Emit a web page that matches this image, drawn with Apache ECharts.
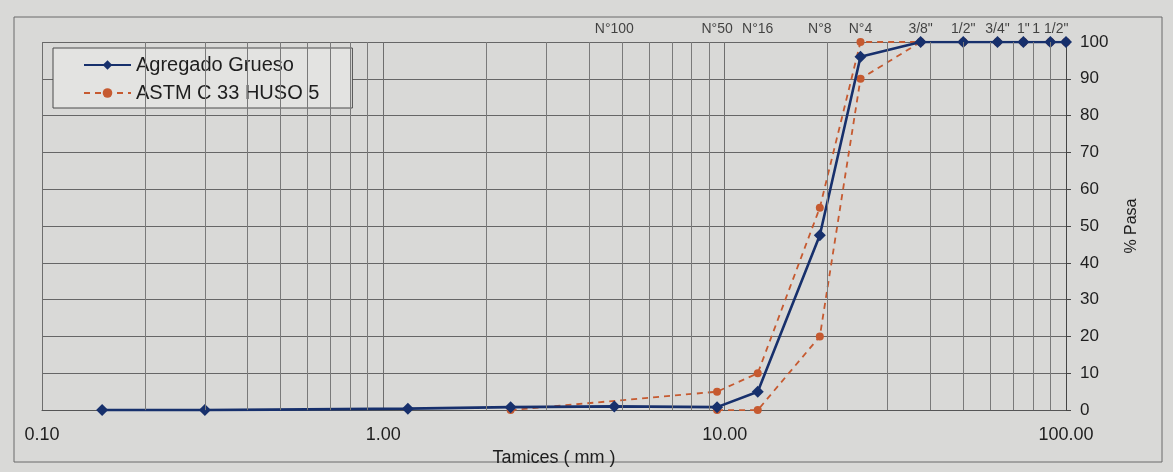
<!DOCTYPE html>
<html>
<head>
<meta charset="utf-8">
<script src="https://cdn.jsdelivr.net/npm/echarts@6/dist/echarts.min.js"></script>
<style>
  html, body { margin: 0; padding: 0; background: #d9d9d7; }
  #chart { width: 1173px; height: 472px; }
</style>
</head>
<body>
<div id="chart"></div>
<script>
// ---- Data ----
const sieveMm      = [0.15, 0.3, 1.18, 2.36, 4.75, 9.5, 12.5, 19, 25, 37.5, 50, 63, 75, 90, 100];
const gruesoPasa   = [0, 0, 0.4, 0.8, 1, 0.8, 5, 47.5, 96, 100, 100, 100, 100, 100, 100];

const astmUpperMm   = [2.36, 9.5, 12.5, 19, 25, 37.5, 50, 63, 75, 90, 100];
const astmUpperPasa = [0, 5, 10, 55, 100, 100, 100, 100, 100, 100, 100];
const astmLowerMm   = [9.5, 12.5, 19, 25, 37.5, 50, 63, 75, 90, 100];
const astmLowerPasa = [0, 0, 20, 90, 100, 100, 100, 100, 100, 100];

const topLabelMm   = [4.75, 9.5, 12.5, 19, 25, 37.5, 50, 63, 75, 90];
const topLabelText = ['N°100', 'N°50', 'N°16', 'N°8', 'N°4', '3/8"', '1/2"', '3/4"', '1"', '1 1/2"'];

const minorGridMm = [0.2, 0.3, 0.4, 0.5, 0.6, 0.7, 0.8, 0.9,
                     2, 3, 4, 5, 6, 7, 8, 9,
                     20, 30, 40, 50, 60, 70, 80, 90];

const yTicks = { min: 0, max: 100, interval: 10 };
const xRange = { min: 0.1, max: 100 };

const seriesNames = ['Agregado Grueso', 'ASTM C 33 HUSO 5'];

// ---- Build ----
const pair = (xs, ys) => xs.map((x, i) => [x, ys[i]]);
const FONT = "'Liberation Sans', Arial, sans-serif";
const BLUE = '#17306c';
const ORANGE = '#c65a30';

const chart = echarts.init(document.getElementById('chart'), null, { renderer: 'canvas' });
chart.setOption({
  animation: false,
  backgroundColor: '#d9d9d7',
  textStyle: { fontFamily: FONT, color: '#262626' },
  graphic: [{
    type: 'rect',
    shape: { x: 14, y: 17, width: 1148, height: 445 },
    style: { fill: 'none', stroke: '#6a6a6a', lineWidth: 1 },
    silent: true, z: -1
  }],
  grid: { left: 42, right: 107, top: 42, bottom: 57 },
  legend: {
    data: seriesNames,
    orient: 'vertical',
    left: 53, top: 48,
    padding: [7, 33, 5, 30],
    itemGap: 8,
    itemWidth: 47,
    itemHeight: 12,
    backgroundColor: '#e3e3e1',
    borderColor: '#4a4a4a',
    borderWidth: 1,
    textStyle: { fontFamily: FONT, fontSize: 20, color: '#1e1e1e' }
  },
  xAxis: {
    type: 'log',
    logBase: 10,
    min: xRange.min, max: xRange.max,
    name: 'Tamices ( mm )',
    nameLocation: 'middle',
    nameGap: 35,
    nameTextStyle: { fontFamily: FONT, fontSize: 18, color: '#1e1e1e' },
    axisLine: { show: true, lineStyle: { color: '#555', width: 1 } },
    axisTick: { show: false },
    axisLabel: {
      fontFamily: FONT, fontSize: 18, color: '#1e1e1e', margin: 16,
      formatter: v => Number(v).toFixed(2)
    },
    splitLine: { show: true, lineStyle: { color: '#6e6e6e', width: 1 } }
  },
  yAxis: {
    type: 'value',
    position: 'right',
    min: yTicks.min, max: yTicks.max, interval: yTicks.interval,
    name: '% Pasa',
    nameLocation: 'middle',
    nameRotate: 90,
    nameGap: 58,
    nameTextStyle: { fontFamily: FONT, fontSize: 16, color: '#1e1e1e' },
    axisLine: { show: true, lineStyle: { color: '#444', width: 1 } },
    axisTick: { show: true, length: 5, lineStyle: { color: '#444' } },
    axisLabel: { fontFamily: FONT, fontSize: 17, color: '#1e1e1e', margin: 14 },
    splitLine: { show: true, lineStyle: { color: '#666', width: 1 } }
  },
  series: [
    {
      name: 'sieve-labels',
      type: 'scatter',
      data: topLabelMm.map((x, i) => ({ value: [x, 100], name: topLabelText[i] })),
      symbol: 'circle',
      symbolSize: 2,
      itemStyle: { color: 'rgba(0,0,0,0)' },
      silent: true,
      clip: false,
      label: {
        show: true, position: 'top', distance: 5,
        formatter: '{b}',
        fontFamily: FONT, fontSize: 14, color: '#1a1a1a'
      },
      markLine: {
        silent: true,
        symbol: ['none', 'none'],
        label: { show: false },
        lineStyle: { color: '#7a7a7a', width: 1, type: 'solid' },
        data: minorGridMm.map(v => ({ xAxis: v }))
      },
      z: 1
    },
    {
      name: seriesNames[1],
      type: 'line',
      data: pair(astmUpperMm, astmUpperPasa),
      symbol: 'circle', symbolSize: 8,
      itemStyle: { color: ORANGE },
      lineStyle: { color: ORANGE, width: 1.8, type: [6, 5] },
      z: 3
    },
    {
      name: seriesNames[1],
      type: 'line',
      data: pair(astmLowerMm, astmLowerPasa),
      symbol: 'circle', symbolSize: 8,
      itemStyle: { color: ORANGE },
      lineStyle: { color: ORANGE, width: 1.8, type: [6, 5] },
      z: 3
    },
    {
      name: seriesNames[0],
      type: 'line',
      data: pair(sieveMm, gruesoPasa),
      symbol: 'diamond', symbolSize: 12,
      itemStyle: { color: BLUE },
      lineStyle: { color: BLUE, width: 2.6 },
      z: 4
    }
  ]
});
</script>
</body>
</html>
